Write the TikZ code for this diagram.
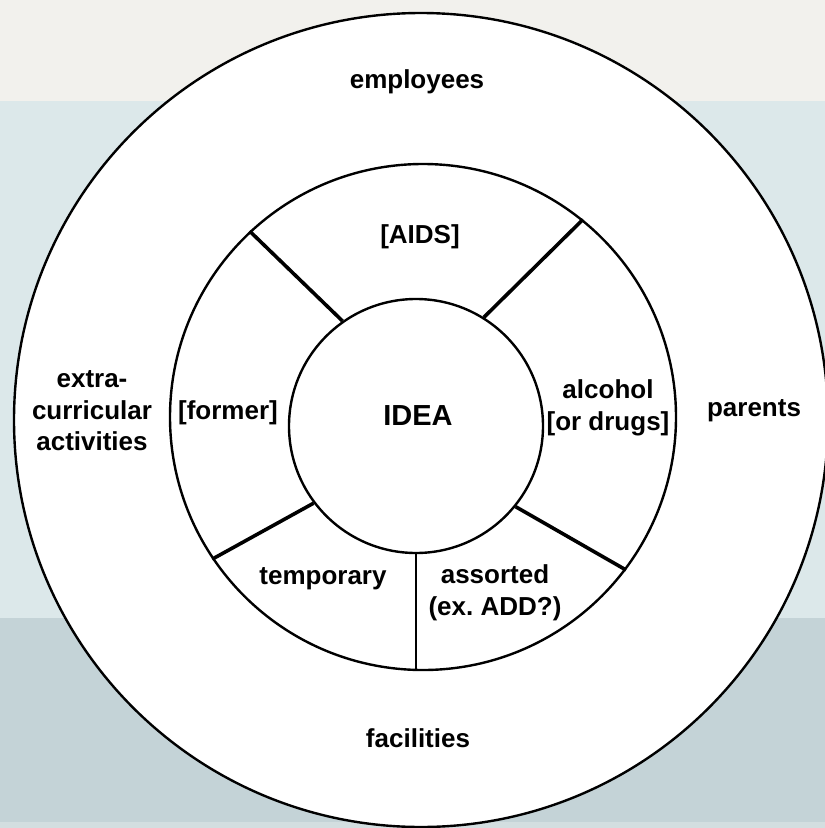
\documentclass[tikz,border=0pt]{standalone}
\usepackage{fontspec}
\setmainfont{Liberation Sans}
\frenchspacing
\definecolor{bgtop}{HTML}{F2F1ED}
\definecolor{bgmid}{HTML}{DCE8EA}
\definecolor{bgbot}{HTML}{C4D3D7}
\definecolor{bgstrip}{HTML}{D3DEE0}
\begin{document}
\begin{tikzpicture}[x=1pt,y=-1pt,
  ring/.style={circle,draw=black,fill=white,line width=2.4pt,inner sep=0pt},
  spoke/.style={line width=3.6pt},
  divider/.style={line width=2.4pt},
  lbl/.style={font=\fontsize{26}{31.5}\selectfont\bfseries,align=center,inner sep=0pt},
  biglbl/.style={font=\fontsize{29}{34}\selectfont\bfseries,align=center,inner sep=0pt}]
\useasboundingbox (0,0) rectangle (825,828);
\clip (0,0) rectangle (825,828);
\fill[bgtop] (0,0) rectangle (825,101);
\fill[bgmid] (0,101) rectangle (825,618);
\fill[bgbot] (0,618) rectangle (825,822);
\fill[bgstrip] (0,822) rectangle (825,828);
\node[ring,minimum size=814pt] (outer) at (421,420) {};
\node[ring,minimum size=506pt] (middle) at (423,417) {};
\node[ring,minimum size=254pt] (inner) at (416,426) {};
\draw[spoke] (inner.125.9) -- (middle.133.2);
\draw[spoke] (inner.58.4) -- (middle.51.4);
\draw[spoke] (inner.-39.9) -- (middle.-37.3);
\draw[spoke] (inner.217.6) -- (middle.214.1);
\draw[divider] (inner.south) -- (inner.south |- middle.south);
\node[lbl] (employees) at (417,82) {employees};
\node[lbl] (aids) at (420,237) {[AIDS]};
\node[biglbl] (idea) at (418,416) {IDEA};
\node[lbl] (former) at (228,413) {[former]};
\node[lbl] (alcohol) at (608,408) {alcohol\\{[or drugs]}};
\node[lbl] (parents) at (754,411) {parents};
\node[lbl] (extra) at (92,411) {extra-\\curricular\\activities};
\node[lbl] (temporary) at (323,579) {temporary};
\node[lbl] (assorted) at (495,593) {assorted\\(ex. ADD?)};
\node[lbl] (facilities) at (418,738) {facilities};
\end{tikzpicture}
\end{document}
